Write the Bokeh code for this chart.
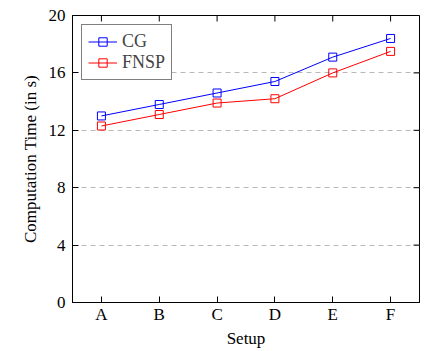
import math
from bokeh.plotting import figure
from bokeh.models import FixedTicker, Legend, LegendItem, Range1d
from bokeh.embed import file_html
from bokeh.resources import INLINE

setups = ["A", "B", "C", "D", "E", "F"]
cg = [13.0, 13.8, 14.6, 15.4, 17.1, 18.4]
fnsp = [12.3, 13.1, 13.9, 14.2, 16.0, 17.5]
y_ticks = [0, 4, 8, 12, 16, 20]

xs = list(range(len(setups)))
FONT = "Liberation Serif"
x_lo, x_hi = -0.5, len(setups) - 0.5
y_lo, y_hi = y_ticks[0], y_ticks[-1]

p = figure(width=424, height=351, output_backend="svg", toolbar_location=None,
           x_range=Range1d(x_lo, x_hi), y_range=Range1d(y_lo, y_hi),
           min_border_left=72, min_border_top=15, min_border_right=5, min_border_bottom=49)
p.outline_line_color = "black"
p.outline_line_width = 1

def style_axis(ax):
    ax.axis_line_color = "black"
    ax.major_tick_in = 6
    ax.major_tick_out = 0
    ax.minor_tick_in = 0
    ax.minor_tick_out = 0
    ax.major_tick_line_color = "black"
    ax.major_label_text_font = FONT
    ax.major_label_text_font_size = "17px"
    ax.major_label_text_color = "black"
    ax.axis_label_text_font = FONT
    ax.axis_label_text_font_size = "17px"
    ax.axis_label_text_font_style = "normal"
    ax.axis_label_text_color = "black"

xa = p.xaxis[0]
xa.ticker = FixedTicker(ticks=xs)
xa.major_label_overrides = {i: s for i, s in enumerate(setups)}
xa.axis_label = "Setup"
xa.axis_label_standoff = 2
xa.major_label_standoff = 2
style_axis(xa)

ya = p.yaxis[0]
ya.ticker = FixedTicker(ticks=y_ticks)
ya.axis_label = "Computation Time (in s)"
ya.major_label_standoff = 7
ya.axis_label_standoff = 6
style_axis(ya)

# mirrored inward ticks on top and right edges (clipped to the frame)
p.scatter(xs, [y_hi] * len(xs), marker="dash", angle=math.pi / 2, size=12,
          line_color="black", line_width=1)
p.scatter([x_hi] * len(y_ticks), y_ticks, marker="dash", size=12,
          line_color="black", line_width=1)

p.xgrid.grid_line_color = None
p.ygrid.ticker = FixedTicker(ticks=y_ticks[1:-1])
p.ygrid.grid_line_color = "#b8b8b8"
p.ygrid.grid_line_dash = "5 4"
p.ygrid.grid_line_width = 1

l1 = p.line(xs, cg, color="#0000ff", line_width=1)
s1 = p.scatter(xs, cg, marker="square", size=8, line_color="#0000ff", fill_color=None, line_width=1)
l2 = p.line(xs, fnsp, color="#ff0000", line_width=1)
s2 = p.scatter(xs, fnsp, marker="square", size=8, line_color="#ff0000", fill_color=None, line_width=1)

legend = Legend(items=[LegendItem(label="CG", renderers=[l1, s1]),
                       LegendItem(label="FNSP", renderers=[l2, s2])],
                location="top_left")
legend.label_text_font = FONT
legend.label_text_font_size = "18px"
legend.border_line_color = "black"
legend.border_line_width = 1
legend.glyph_width = 29
legend.glyph_height = 21
legend.label_height = 21
legend.spacing = 0
legend.padding = 6
legend.margin = 9
legend.label_standoff = 5
legend.background_fill_alpha = 1
p.add_layout(legend)

open("out.html", "w").write(file_html(p, INLINE))
